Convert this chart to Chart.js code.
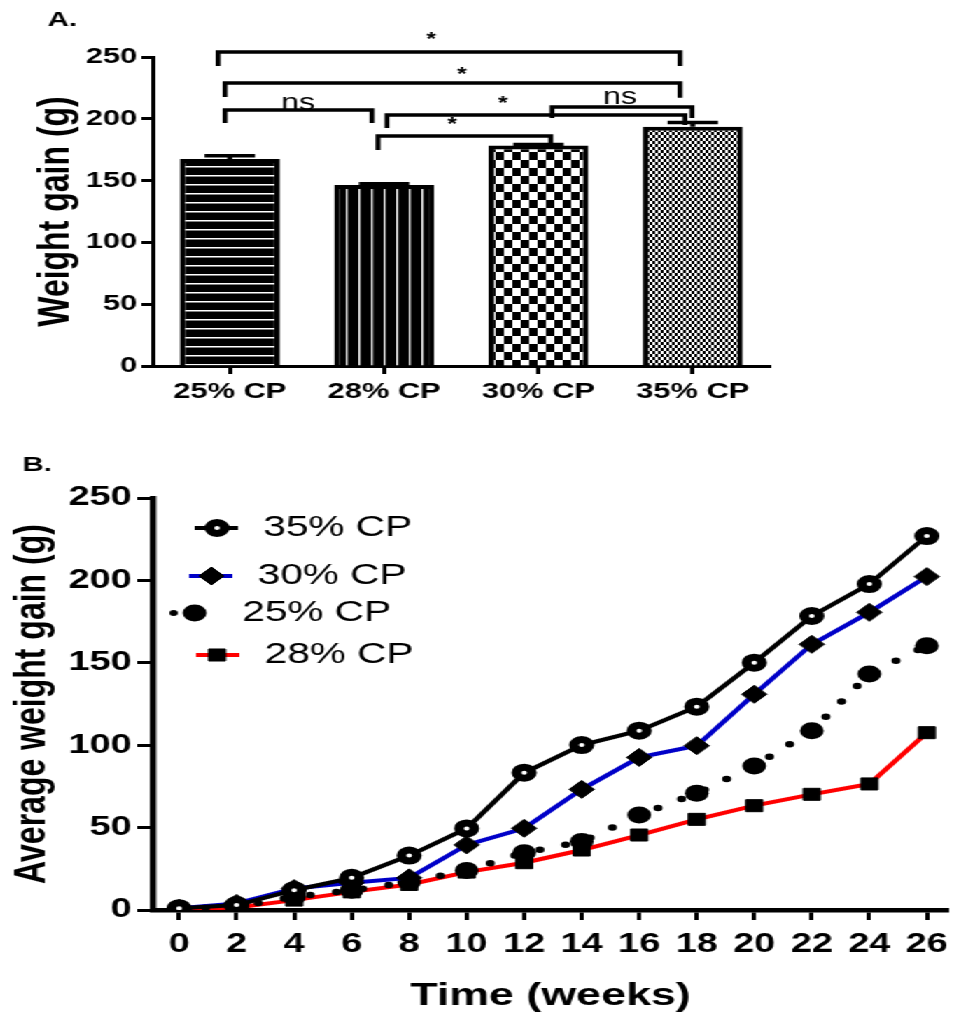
<!DOCTYPE html>
<html>
<head>
<meta charset="utf-8">
<script src="https://cdn.jsdelivr.net/npm/chart.js@4.4.1/dist/chart.umd.min.js"></script>
<style>
  html, body { margin: 0; padding: 0; background: #fff; overflow: hidden; }
  /* the original figure is stretched sideways, so the whole page is too */
  #wrap { position: relative; width: 690px; height: 1015px; transform: scaleX(1.4); transform-origin: 0 0; }
  canvas { position: absolute; left: 0; }
  #chart-a { top: 0; }
  #chart-b { top: 440px; }
</style>
</head>
<body>
<div id="wrap">
  <canvas id="chart-a" width="690" height="410"></canvas>
  <canvas id="chart-b" width="690" height="575"></canvas>
</div>
<script>
const FONT = "Arial, 'Liberation Sans', Helvetica, sans-serif"

// panel A
const groups = ['25% CP', '28% CP', '30% CP', '35% CP']
const weightGain = [167.5, 146.4, 178.3, 193.6]
const weightError = [2.6, 1.0, 1.0, 3.4]
const ticksA = [0, 50, 100, 150, 200, 250]

// significance brackets: from, to (category index), bar height, left end, right end
const brackets = [
  [-0.076, 2.917, 254.0, 242.7, 242.7],
  [-0.031, 2.917, 229.0, 217.6, 217.0],
  [-0.031, 0.921, 207.1, 196.6, 196.6],
  [1.018, 2.949, 203.1, 192.6, 195.0],
  [2.088, 2.995, 209.5, 200.6, 200.6],
  [0.960, 2.080, 186.1, 174.8, 180.4]
]
const bracketLabels = [
  ['*', 1.304, 259.7],
  ['*', 1.505, 231.4],
  ['*', 1.770, 207.9],
  ['*', 1.440, 190.9],
  ['ns', 0.442, 207.1],
  ['ns', 2.529, 212.0]
]

// panel B
const weeks = [0, 2, 4, 6, 8, 10, 12, 14, 16, 18, 20, 22, 24, 26]
const cp35 = [1, 3, 12, 19.5, 33, 49.5, 83.3, 100.1, 108.8, 123.4, 150.1, 178.4, 197.8, 226.9]
const cp30 = [1, 4, 13, 16.5, 19.5, 39.5, 49.6, 73.2, 92.6, 99.7, 130.9, 161.2, 180.6, 202.3]
const cp25 = [1, 2, 8, 12, 17, 24, 34.8, 41.5, 57.6, 70.8, 87.4, 108.8, 143.2, 160.4]
const cp28 = [0.5, 1.5, 6, 11, 15.5, 23, 28.7, 36.4, 45.5, 55, 63.3, 70.2, 76.5, 107.6]
const ticksB = [0, 50, 100, 150, 200, 250]

const toPoints = vals => weeks.map((w, i) => ({ x: w, y: vals[i] }))

function makePattern(ctx, w, h, paint) {
  const c = document.createElement('canvas')
  c.width = w
  c.height = h
  paint(c.getContext('2d'))
  return ctx.createPattern(c, 'repeat')
}

const panelLabel = {
  id: 'panelLabel',
  afterDraw(chart, args, opts) {
    const { ctx } = chart
    ctx.save()
    ctx.font = `bold 21px ${FONT}`
    ctx.fillStyle = '#000'
    ctx.textBaseline = 'middle'
    ctx.textAlign = 'left'
    ctx.fillText(opts.text, opts.x, opts.y)
    ctx.restore()
  }
}

const errorBars = {
  id: 'errorBars',
  afterDatasetsDraw(chart) {
    const { ctx, scales: { y } } = chart
    const meta = chart.getDatasetMeta(0)
    ctx.save()
    ctx.strokeStyle = '#000'
    ctx.lineWidth = 3.5
    meta.data.forEach((bar, i) => {
      const top = y.getPixelForValue(weightGain[i] + weightError[i])
      ctx.beginPath()
      ctx.moveTo(bar.x, bar.y)
      ctx.lineTo(bar.x, top)
      ctx.moveTo(bar.x - 18, top)
      ctx.lineTo(bar.x + 18, top)
      ctx.stroke()
    })
    ctx.restore()
  }
}

const bracketsPlugin = {
  id: 'brackets',
  afterDatasetsDraw(chart) {
    const { ctx, scales: { x, y } } = chart
    ctx.save()
    ctx.strokeStyle = '#000'
    ctx.lineWidth = 3.5
    brackets.forEach(([x1, x2, yTop, yL, yR]) => {
      ctx.beginPath()
      ctx.moveTo(x.getPixelForValue(x1), y.getPixelForValue(yL))
      ctx.lineTo(x.getPixelForValue(x1), y.getPixelForValue(yTop))
      ctx.lineTo(x.getPixelForValue(x2), y.getPixelForValue(yTop))
      ctx.lineTo(x.getPixelForValue(x2), y.getPixelForValue(yR))
      ctx.stroke()
    })
    ctx.fillStyle = '#000'
    ctx.textAlign = 'center'
    ctx.textBaseline = 'alphabetic'
    bracketLabels.forEach(([text, lx, ly]) => {
      ctx.font = text === '*' ? `bold 18px ${FONT}` : `23px ${FONT}`
      ctx.fillText(text, x.getPixelForValue(lx), y.getPixelForValue(ly))
    })
    ctx.restore()
  }
}

function drawMarker(ctx, ds, x, y) {
  const r = ds.pointRadius
  ctx.beginPath()
  if (ds.pointStyle === 'rectRot') {
    ctx.moveTo(x - r, y); ctx.lineTo(x, y - r); ctx.lineTo(x + r, y); ctx.lineTo(x, y + r); ctx.closePath()
  } else if (ds.pointStyle === 'rect') {
    const s = r * Math.SQRT1_2
    ctx.rect(x - s, y - s, 2 * s, 2 * s)
  } else {
    ctx.arc(x, y, r, 0, Math.PI * 2)
  }
  ctx.fillStyle = ds.pointBackgroundColor
  ctx.fill()
  if (ds.pointBorderWidth) {
    ctx.lineWidth = ds.pointBorderWidth
    ctx.strokeStyle = ds.pointBorderColor
    ctx.stroke()
  }
}

// legend entries are placed by hand, as in the original figure
const legendSpots = [
  { line: [139, 170], marker: 155, text: 188, y: 88 },
  { line: [135, 166], marker: 151, text: 184, y: 136 },
  { dot: 124, marker: 139, text: 173, y: 173 },
  { line: [140, 171], marker: 155, text: 189, y: 215 }
]

const customLegend = {
  id: 'customLegend',
  afterDraw(chart) {
    const { ctx } = chart
    ctx.save()
    chart.data.datasets.forEach((ds, i) => {
      const s = legendSpots[i]
      if (s.line) {
        ctx.strokeStyle = ds.borderColor
        ctx.lineWidth = 4
        ctx.beginPath()
        ctx.moveTo(s.line[0], s.y)
        ctx.lineTo(s.line[1], s.y)
        ctx.stroke()
      }
      if (s.dot) {
        ctx.fillStyle = ds.borderColor
        ctx.beginPath()
        ctx.arc(s.dot, s.y, 3, 0, Math.PI * 2)
        ctx.fill()
      }
      drawMarker(ctx, ds, s.marker, s.y)
      ctx.fillStyle = '#000'
      ctx.font = `29px ${FONT}`
      ctx.textAlign = 'left'
      ctx.textBaseline = 'middle'
      ctx.fillText(ds.label, s.text, s.y)
    })
    ctx.restore()
  }
}

function axisStyle(tickLength, borderWidth) {
  return {
    grid: { display: true, drawOnChartArea: false, drawTicks: true, tickLength, tickWidth: 3, tickColor: '#000', offset: false },
    border: { display: true, color: '#000', width: borderWidth }
  }
}

window.onload = () => {
  const ctxA = document.getElementById('chart-a').getContext('2d')
  const hStripes = makePattern(ctxA, 4, 9, g => {
    g.fillStyle = '#000'; g.fillRect(0, 0, 4, 9)
    g.fillStyle = '#fff'; g.fillRect(0, 4, 4, 1.5)
  })
  const vStripes = makePattern(ctxA, 9, 4, g => {
    g.fillStyle = '#000'; g.fillRect(0, 0, 9, 4)
    g.fillStyle = '#fff'; g.fillRect(4, 0, 1.3, 4)
  })
  const checker = makePattern(ctxA, 12, 16, g => {
    g.fillStyle = '#fff'; g.fillRect(0, 0, 12, 16)
    g.fillStyle = '#000'; g.fillRect(0, 0, 6, 8); g.fillRect(6, 8, 6, 8)
  })
  const fineChecker = makePattern(ctxA, 4, 6, g => {
    g.fillStyle = '#fff'; g.fillRect(0, 0, 4, 6)
    g.fillStyle = '#000'; g.fillRect(0, 0, 2, 3); g.fillRect(2, 3, 2, 3)
  })

  new Chart(ctxA, {
    type: 'bar',
    data: {
      labels: groups,
      datasets: [{
        data: weightGain,
        backgroundColor: [hStripes, vStripes, checker, fineChecker],
        borderColor: '#000',
        borderWidth: 4,
        borderSkipped: 'start',
        barPercentage: 0.648,
        categoryPercentage: 1
      }]
    },
    options: {
      responsive: false,
      animation: false,
      events: [],
      layout: { padding: { top: 57, right: 140, left: 0, bottom: 0 } },
      plugins: {
        legend: { display: false },
        tooltip: { enabled: false },
        panelLabel: { text: 'A.', x: 34, y: 20 }
      },
      scales: {
        x: {
          ...axisStyle(8, 3),
          afterFit: s => { s.height = 44 },
          ticks: { color: '#000', padding: 5, maxRotation: 0, font: { family: FONT, size: 22, weight: 'bold' } }
        },
        y: {
          ...axisStyle(8, 3),
          min: 0,
          max: 250,
          afterBuildTicks: s => { s.ticks = ticksA.map(v => ({ value: v })) },
          afterFit: s => { s.width = 109 },
          ticks: { color: '#000', padding: 3, font: { family: FONT, size: 22, weight: 'bold' } },
          title: { display: true, text: 'Weight gain (g)', color: '#000', padding: { top: 21, bottom: 0 }, font: { family: FONT, size: 32, weight: 'bold' } }
        }
      }
    },
    plugins: [errorBars, bracketsPlugin, panelLabel]
  })

  new Chart(document.getElementById('chart-b'), {
    type: 'line',
    data: {
      datasets: [
        { label: '35% CP', data: toPoints(cp35), borderColor: '#000', borderWidth: 4, pointStyle: 'circle', pointRadius: 5.5, pointBorderWidth: 7, pointBackgroundColor: '#fff', pointBorderColor: '#000' },
        { label: '30% CP', data: toPoints(cp30), borderColor: '#0000c8', borderWidth: 4, pointStyle: 'rectRot', pointRadius: 9, pointBorderWidth: 1, pointBackgroundColor: '#000', pointBorderColor: '#000' },
        { label: '25% CP', data: toPoints(cp25), borderColor: '#000', borderWidth: 6.5, borderDash: [0, 19], borderCapStyle: 'round', pointStyle: 'circle', pointRadius: 8.5, pointBorderWidth: 0, pointBackgroundColor: '#000', pointBorderColor: '#000' },
        { label: '28% CP', data: toPoints(cp28), borderColor: '#ff0000', borderWidth: 4, pointStyle: 'rect', pointRadius: 8.5, pointBorderWidth: 1, pointBackgroundColor: '#000', pointBorderColor: '#000' }
      ]
    },
    options: {
      responsive: false,
      animation: false,
      events: [],
      layout: { padding: { top: 58, right: 0, left: 0, bottom: 0 } },
      plugins: {
        legend: { display: false },
        tooltip: { enabled: false },
        panelLabel: { text: 'B.', x: 16, y: 25 }
      },
      scales: {
        x: {
          ...axisStyle(10, 4.5),
          type: 'linear',
          min: -0.92,
          max: 26.75,
          afterBuildTicks: s => { s.ticks = weeks.map(v => ({ value: v })) },
          afterFit: s => { s.height = 105; s.paddingLeft = 0; s.paddingRight = 0 },
          ticks: { color: '#000', padding: 8, maxRotation: 0, autoSkip: false, font: { family: FONT, size: 27, weight: 'bold' } },
          title: { display: true, text: 'Time (weeks)', color: '#000', padding: { top: 0, bottom: 0 }, font: { family: FONT, size: 32, weight: 'bold' } }
        },
        y: {
          ...axisStyle(11, 4.5),
          min: 0,
          max: 250,
          afterBuildTicks: s => { s.ticks = ticksB.map(v => ({ value: v })) },
          afterFit: s => { s.width = 109 },
          ticks: { color: '#000', padding: 4, font: { family: FONT, size: 27, weight: 'bold' } },
          title: { display: true, text: 'Average weight gain (g)', color: '#000', padding: { top: 4, bottom: 0 }, font: { family: FONT, size: 32, weight: 'bold' } }
        }
      }
    },
    plugins: [customLegend, panelLabel]
  })
}
</script>
</body>
</html>
